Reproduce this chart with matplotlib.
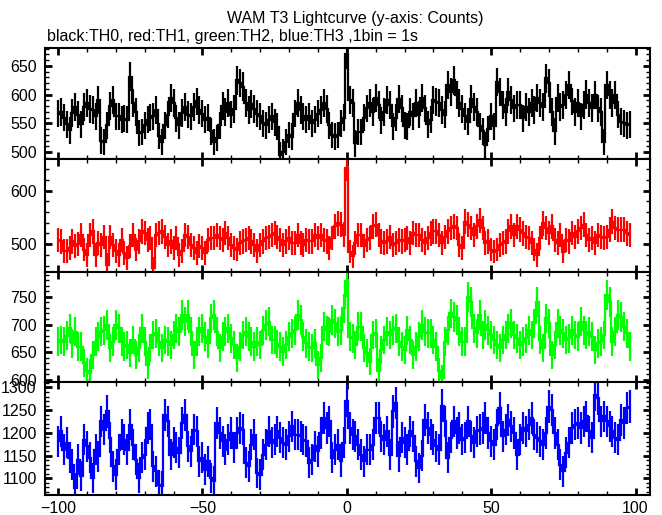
import numpy as np
import matplotlib.pyplot as plt
from matplotlib.ticker import MultipleLocator

# time bins (s), 1 bin = 1 s
t = np.arange(-100, 99)

# TH0 counts (black)
th0 = [567, 570, 560, 548, 538, 568, 578, 565, 548, 578,
       585, 575, 573, 562, 590, 520, 518, 547, 580, 590,
       562, 562, 556, 558, 556, 631, 585, 570, 533, 535,
       547, 556, 560, 562, 573, 528, 518, 547, 565, 594,
       585, 559, 547, 568, 578, 565, 562, 579, 588, 573,
       567, 556, 560, 536, 518, 524, 547, 580, 570, 585,
       565, 575, 625, 620, 614, 585, 573, 584, 575, 567,
       562, 550, 547, 556, 562, 552, 544, 495, 500, 518,
       530, 527, 567, 585, 573, 562, 556, 562, 550, 556,
       567, 573, 585, 575, 547, 530, 527, 530, 550, 560,
       670, 590, 585, 515, 535, 535, 560, 576, 585, 570,
       594, 582, 555, 570, 590, 582, 545, 560, 593, 576,
       546, 544, 570, 562, 585, 565, 594, 576, 548, 556,
       590, 587, 585, 573, 565, 617, 605, 625, 599, 585,
       575, 562, 553, 592, 579, 570, 545, 536, 513, 540,
       562, 545, 622, 605, 582, 570, 605, 590, 576, 582,
       582, 559, 579, 570, 585, 573, 594, 585, 579, 628,
       620, 570, 536, 594, 579, 582, 599, 617, 588, 570,
       585, 562, 582, 600, 585, 577, 599, 576, 570, 518,
       617, 599, 585, 599, 565, 553, 550, 547, 548]

# TH1 counts (red)
th1 = [508, 505, 487, 487, 493, 505, 496, 500, 517, 490,
       480, 517, 524, 480, 502, 499, 514, 462, 514, 499,
       487, 480, 508, 483, 474, 496, 517, 490, 505, 524,
       521, 508, 511, 455, 517, 521, 524, 514, 499, 505,
       493, 511, 480, 487, 517, 514, 499, 493, 484, 496,
       493, 484, 508, 511, 511, 517, 511, 508, 521, 511,
       499, 493, 490, 502, 505, 508, 511, 505, 499, 487,
       499, 505, 511, 514, 517, 521, 514, 508, 499, 505,
       511, 502, 502, 517, 502, 499, 508, 505, 505, 517,
       511, 517, 508, 505, 493, 511, 533, 539, 536, 518,
       643, 486, 477, 502, 517, 517, 496, 508, 511, 533,
       536, 517, 505, 502, 505, 514, 499, 502, 508, 505,
       508, 511, 502, 521, 517, 517, 508, 502, 511, 520,
       524, 524, 517, 502, 514, 524, 530, 533, 530, 499,
       493, 542, 536, 530, 517, 533, 545, 530, 502, 505,
       490, 486, 490, 499, 502, 505, 524, 533, 517, 533,
       527, 520, 514, 511, 502, 490, 480, 511, 539, 530,
       521, 533, 508, 502, 517, 486, 508, 505, 521, 514,
       524, 530, 536, 517, 508, 511, 502, 517, 514, 511,
       514, 527, 542, 530, 527, 527, 527, 520, 517]

# TH2 counts (green)
th2 = [669, 672, 669, 680, 693, 666, 687, 660, 660, 630,
       615, 612, 645, 669, 678, 687, 690, 699, 657, 669,
       699, 693, 669, 660, 663, 648, 672, 645, 657, 693,
       669, 627, 657, 681, 684, 669, 657, 672, 669, 663,
       681, 693, 687, 717, 705, 717, 687, 645, 669, 687,
       693, 678, 666, 711, 717, 687, 657, 678, 687, 693,
       675, 663, 639, 660, 681, 687, 678, 669, 660, 669,
       663, 690, 699, 705, 672, 672, 665, 660, 651, 663,
       678, 684, 690, 717, 708, 678, 666, 660, 657, 666,
       627, 639, 696, 690, 687, 708, 702, 687, 690, 729,
       778, 678, 675, 663, 696, 696, 657, 648, 633, 681,
       684, 615, 654, 672, 687, 681, 690, 693, 669, 660,
       654, 690, 672, 645, 660, 678, 699, 687, 684, 684,
       672, 660, 615, 603, 669, 690, 720, 714, 708, 687,
       669, 669, 750, 741, 693, 684, 717, 681, 699, 690,
       681, 672, 663, 657, 672, 681, 693, 702, 681, 675,
       663, 669, 675, 690, 681, 702, 741, 672, 657, 711,
       702, 645, 663, 702, 690, 684, 672, 675, 690, 681,
       678, 705, 690, 681, 687, 678, 654, 666, 669, 681,
       753, 741, 669, 687, 717, 714, 696, 684, 660]

# TH3 counts (blue)
th3 = [1181, 1203, 1163, 1178, 1145, 1130, 1079, 1141, 1104, 1185,
       1170, 1145, 1101, 1163, 1148, 1225, 1207, 1247, 1189, 1126,
       1108, 1163, 1196, 1185, 1163, 1218, 1174, 1141, 1101, 1145,
       1152, 1211, 1218, 1126, 1115, 1086, 1082, 1240, 1225, 1152,
       1178, 1167, 1156, 1222, 1240, 1170, 1159, 1207, 1203, 1137,
       1145, 1119, 1137, 1101, 1093, 1222, 1200, 1181, 1163, 1185,
       1200, 1167, 1200, 1211, 1207, 1134, 1126, 1174, 1196, 1112,
       1108, 1152, 1174, 1203, 1178, 1185, 1203, 1189, 1178, 1174,
       1192, 1214, 1196, 1196, 1192, 1185, 1181, 1134, 1141, 1170,
       1159, 1200, 1232, 1211, 1225, 1145, 1163, 1174, 1137, 1178,
       1270, 1211, 1196, 1192, 1174, 1152, 1137, 1163, 1163, 1174,
       1232, 1232, 1192, 1185, 1203, 1152, 1247, 1265, 1148, 1189,
       1178, 1163, 1203, 1192, 1137, 1123, 1150, 1229, 1211, 1196,
       1185, 1170, 1163, 1260, 1225, 1145, 1189, 1225, 1200, 1211,
       1185, 1189, 1225, 1192, 1178, 1203, 1207, 1211, 1232, 1200,
       1181, 1174, 1218, 1254, 1192, 1207, 1229, 1214, 1200, 1152,
       1185, 1211, 1203, 1218, 1232, 1196, 1189, 1181, 1174, 1200,
       1258, 1251, 1200, 1174, 1130, 1115, 1156, 1178, 1211, 1218,
       1222, 1211, 1225, 1236, 1203, 1189, 1284, 1276, 1225, 1236,
       1225, 1214, 1203, 1189, 1185, 1229, 1222, 1254, 1258]

series = [th0, th1, th2, th3]
colors = ['black', '#ff0000', '#00ff00', '#0000ff']
ylims = [(488, 681), (448, 659), (596, 795), (1063, 1312)]
majors = [50, 100, 50, 50]
minors = [10, 20, 10, 10]

plt.rcParams['font.family'] = ['Liberation Sans', 'DejaVu Sans']
plt.rcParams['font.size'] = 11.5

fig = plt.figure(figsize=(6.62, 5.15), dpi=100)
W, H = 662., 515.
edges_px = [48, 159, 272, 382, 495]   # panel borders in pixels from the top
tedges = np.append(t - 0.5, t[-1] + 0.5)

for i in range(4):
    y = np.array(series[i], dtype=float)
    b = 1 - edges_px[i + 1] / H
    h = (edges_px[i + 1] - edges_px[i]) / H
    ax = fig.add_axes([45 / W, b, 605 / W, h])
    ax.stairs(y, tedges, baseline=None, color=colors[i], lw=1.6)
    ax.errorbar(t, y, yerr=np.sqrt(y), fmt='none', ecolor=colors[i],
                elinewidth=1.6, capsize=0)
    ax.set_xlim(-104.5, 105)
    ax.set_ylim(*ylims[i])
    ax.xaxis.set_major_locator(MultipleLocator(50))
    ax.xaxis.set_minor_locator(MultipleLocator(10))
    ax.yaxis.set_major_locator(MultipleLocator(majors[i]))
    ax.yaxis.set_minor_locator(MultipleLocator(minors[i]))
    ax.tick_params(which='both', direction='in', top=True, right=True)
    ax.tick_params(which='major', length=5, width=2, pad=6)
    ax.tick_params(which='minor', length=3, width=1)
    for s in ax.spines.values():
        s.set_linewidth(1.5)
    if i < 3:
        ax.tick_params(labelbottom=False)
    else:
        ax.tick_params(axis='x', pad=4)

fig.text(355 / W, 1 - 18 / H, 'WAM T3 Lightcurve (y-axis: Counts)',
         ha='center', va='center')
fig.text(47 / W, 1 - 36 / H,
         'black:TH0, red:TH1, green:TH2, blue:TH3 ,1bin = 1s',
         ha='left', va='center')

fig.savefig('out.png', dpi=100)
